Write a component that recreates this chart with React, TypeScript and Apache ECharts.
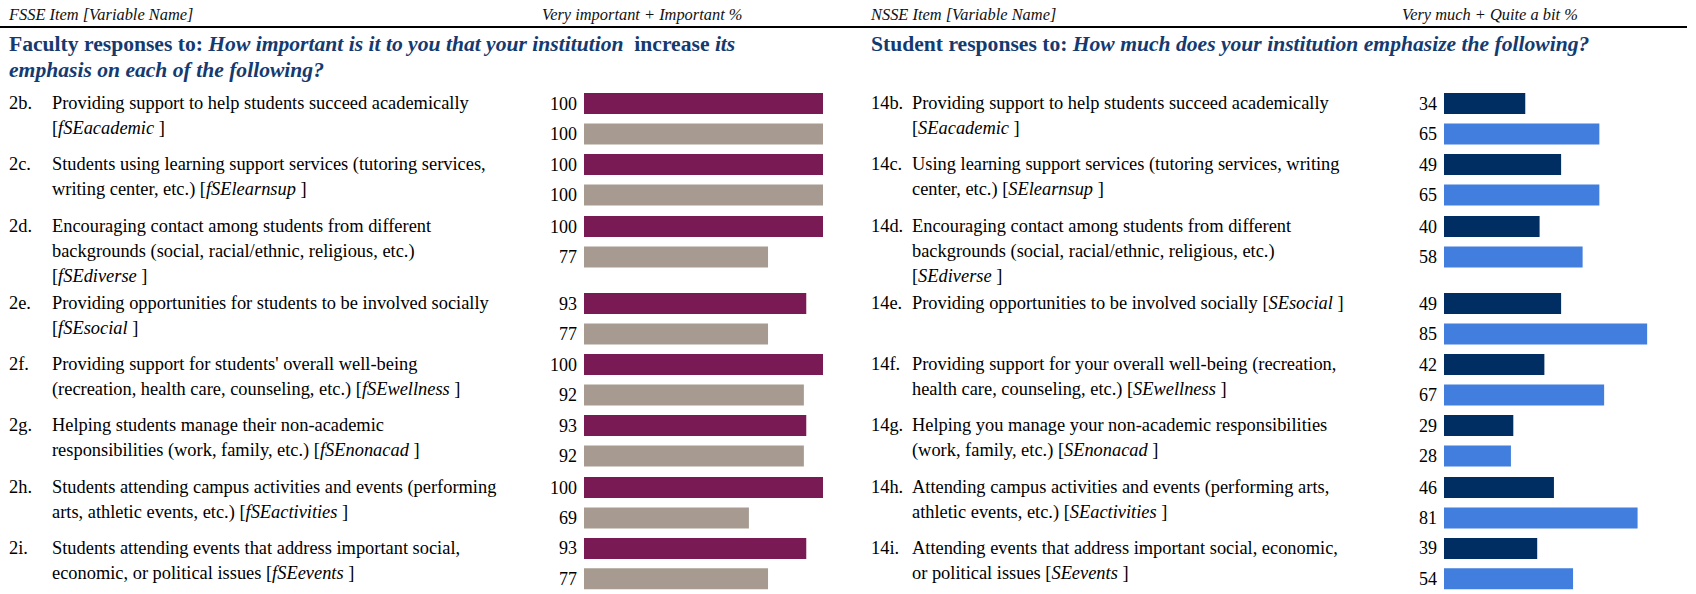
import React, { useEffect, useRef } from "react";
import * as echarts from "echarts";

// ---------- DATA ----------
const fsseCodes = ["2b.", "2c.", "2d.", "2e.", "2f.", "2g.", "2h.", "2i."];
const fsseItems = [
  "Providing support to help students succeed academically\n[{i|fSEacademic} ]",
  "Students using learning support services (tutoring services,\nwriting center, etc.) [{i|fSElearnsup} ]",
  "Encouraging contact among students from different\nbackgrounds (social, racial/ethnic, religious, etc.)\n[{i|fSEdiverse} ]",
  "Providing opportunities for students to be involved socially\n[{i|fSEsocial} ]",
  "Providing support for students' overall well-being\n(recreation, health care, counseling, etc.) [{i|fSEwellness} ]",
  "Helping students manage their non-academic\nresponsibilities (work, family, etc.) [{i|fSEnonacad} ]",
  "Students attending campus activities and events (performing\narts, athletic events, etc.) [{i|fSEactivities} ]",
  "Students attending events that address important social,\neconomic, or political issues [{i|fSEevents} ]",
];
const fsseFirst = [100, 100, 100, 93, 100, 93, 100, 93];
const fsseSecond = [100, 100, 77, 77, 92, 92, 69, 77];

const nsseCodes = ["14b.", "14c.", "14d.", "14e.", "14f.", "14g.", "14h.", "14i."];
const nsseItems = [
  "Providing support to help students succeed academically\n[{i|SEacademic} ]",
  "Using learning support services (tutoring services, writing\ncenter, etc.) [{i|SElearnsup} ]",
  "Encouraging contact among students from different\nbackgrounds (social, racial/ethnic, religious, etc.)\n[{i|SEdiverse} ]",
  "Providing opportunities to be involved socially [{i|SEsocial} ]",
  "Providing support for your overall well-being (recreation,\nhealth care, counseling, etc.) [{i|SEwellness} ]",
  "Helping you manage your non-academic responsibilities\n(work, family, etc.) [{i|SEnonacad} ]",
  "Attending campus activities and events (performing arts,\nathletic events, etc.) [{i|SEactivities} ]",
  "Attending events that address important social, economic,\nor political issues [{i|SEevents} ]",
];
const nsseFirst = [34, 49, 40, 49, 42, 29, 46, 39];
const nsseSecond = [65, 65, 58, 85, 67, 28, 81, 54];

const pairCategories = ["First", "Second"];

const leftHeaderItem = "FSSE Item [Variable Name]";
const leftHeaderValue = "Very important + Important %";
const rightHeaderItem = "NSSE Item [Variable Name]";
const rightHeaderValue = "Very much + Quite a bit %";

// ---------- LAYOUT ----------
const FONT = '"Liberation Serif", "Times New Roman", serif';
const W = 1696;
const H = 594;
const rowCenters = [103.5, 164.5, 226.5, 303.5, 364.5, 425.5, 487.5, 548.5];
const GRID_H = 61;
const BAR_W = 21;
const PLOT_W = 239;
const TXT = 18.4;
const TITLE = 21.6;
const HEAD = 16.4;
const sides = [
  {
    codes: fsseCodes, items: fsseItems, a: fsseFirst, b: fsseSecond,
    colors: ["#7a1a55", "#a79b91"], codeX: 9, textX: 52, gridLeft: 584,
  },
  {
    codes: nsseCodes, items: nsseItems, a: nsseFirst, b: nsseSecond,
    colors: ["#002d62", "#417ede"], codeX: 871, textX: 912, gridLeft: 1444,
  },
];
const NAVY = "#143a70";

export default function App() {
  const ref = useRef<HTMLDivElement>(null);
  useEffect(() => {
    if (!ref.current) return;
    const chart = echarts.init(ref.current, undefined, { renderer: "svg" });

    const grid: any[] = [];
    const xAxis: any[] = [];
    const yAxis: any[] = [];
    const series: any[] = [];
    const graphic: any[] = [];

    sides.forEach((s) => {
      rowCenters.forEach((c, k) => {
        const gi = grid.length;
        grid.push({ left: s.gridLeft, top: c - GRID_H / 4, width: PLOT_W, height: GRID_H });
        xAxis.push({ type: "value", gridIndex: gi, min: 0, max: 100, show: false });
        yAxis.push({ type: "category", gridIndex: gi, data: pairCategories, inverse: true, show: false });
        series.push({
          type: "bar",
          xAxisIndex: gi,
          yAxisIndex: gi,
          barWidth: BAR_W,
          data: [
            { value: s.a[k], itemStyle: { color: s.colors[0] } },
            { value: s.b[k], itemStyle: { color: s.colors[1] } },
          ],
          label: {
            show: true,
            position: "left",
            distance: 7,
            formatter: "{c}",
            fontFamily: FONT,
            fontSize: 18,
            color: "#000",
          },
          silent: true,
        });
        graphic.push({
          type: "text",
          x: s.codeX,
          y: c - 13.5,
          style: {
            text: s.codes[k],
            font: `${TXT}px ${FONT}`,
            fill: "#000",
            lineHeight: 25,
            verticalAlign: "top",
          },
        });
        graphic.push({
          type: "text",
          x: s.textX,
          y: c - 13.5,
          style: {
            text: s.items[k],
            font: `${TXT}px ${FONT}`,
            fontFamily: FONT,
            fontSize: TXT,
            fill: "#000",
            lineHeight: 25,
            verticalAlign: "top",
            rich: {
              i: { fontFamily: FONT, fontSize: TXT, fontStyle: "italic", lineHeight: 25, fill: "#000" },
            },
          },
        });
      });
    });

    const headerStyle = (text: string) => ({
      text,
      font: `italic ${HEAD}px ${FONT}`,
      fill: "#111",
      verticalAlign: "middle",
    });
    graphic.push({ type: "text", x: 9, y: 14, style: headerStyle(leftHeaderItem) });
    graphic.push({ type: "text", x: 542, y: 14, style: headerStyle(leftHeaderValue) });
    graphic.push({ type: "text", x: 871, y: 14, style: headerStyle(rightHeaderItem) });
    graphic.push({ type: "text", x: 1402, y: 14, style: headerStyle(rightHeaderValue) });
    graphic.push({
      type: "line",
      shape: { x1: 0, y1: 27, x2: 1687, y2: 27 },
      style: { stroke: "#000", lineWidth: 2 },
    });

    const titleRich = {
      b: { fontFamily: FONT, fontSize: TITLE, fontWeight: "bold", fill: NAVY, lineHeight: 26 },
      bi: { fontFamily: FONT, fontSize: TITLE, fontWeight: "bold", fontStyle: "italic", fill: NAVY, lineHeight: 26 },
    };
    graphic.push({
      type: "text",
      x: 9,
      y: 31,
      style: {
        text:
          "{b|Faculty responses to: }{bi|How important is it to you that your institution }{b| increase }{bi|its}\n{bi|emphasis on each of the following?}",
        fontFamily: FONT,
        fontSize: TITLE,
        lineHeight: 26,
        verticalAlign: "top",
        rich: titleRich,
      },
    });
    graphic.push({
      type: "text",
      x: 871,
      y: 31,
      style: {
        text: "{b|Student responses to: }{bi|How much does your institution emphasize the following?}",
        fontFamily: FONT,
        fontSize: TITLE,
        lineHeight: 26,
        verticalAlign: "top",
        rich: titleRich,
      },
    });

    chart.setOption({
      animation: false,
      backgroundColor: "#fff",
      grid,
      xAxis,
      yAxis,
      series,
      graphic,
    });
    return () => chart.dispose();
  }, []);

  return (
    <div
      ref={ref}
      style={{ position: "absolute", left: 0, top: 0, width: W, height: H, background: "#fff" }}
    />
  );
}
